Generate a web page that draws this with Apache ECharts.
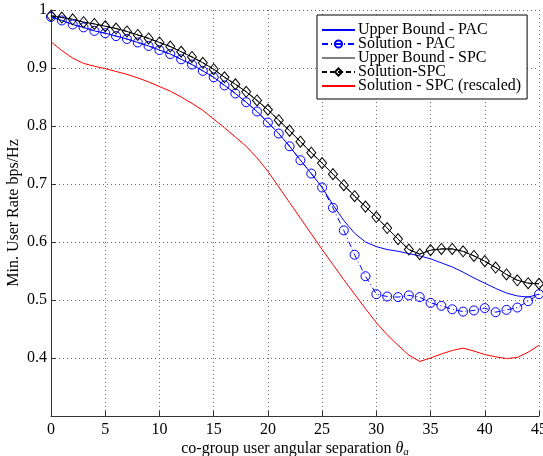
<!DOCTYPE html>
<html>

<head>
    <meta charset="utf8">
    <script src="https://cdn.jsdelivr.net/npm/echarts@6/dist/echarts.min.js"></script>
    <style>
        body { margin: 0; background: #fff; }
        #main { width: 543px; height: 456px; }
    </style>
</head>

<body>
    <div id="main"></div>
    <script type="text/javascript">
        // angular separation, degrees
        var angles = [];
        for (var i = 0; i <= 45; i++) angles.push(i);

        var upperPAC = [0.988, 0.982, 0.975, 0.970, 0.964, 0.960, 0.955, 0.950, 0.944, 0.938,
            0.931, 0.924, 0.915, 0.906, 0.895, 0.884, 0.870, 0.856, 0.841, 0.825,
            0.806, 0.787, 0.765, 0.741, 0.718, 0.694, 0.664, 0.637, 0.615, 0.600,
            0.592, 0.587, 0.584, 0.580, 0.576, 0.571, 0.564, 0.557, 0.548, 0.538,
            0.529, 0.520, 0.512, 0.507, 0.505, 0.510];

        var solutionPAC = [0.988, 0.982, 0.975, 0.970, 0.964, 0.960, 0.955, 0.950, 0.944, 0.938,
            0.931, 0.924, 0.915, 0.906, 0.895, 0.884, 0.870, 0.856, 0.841, 0.825,
            0.806, 0.787, 0.765, 0.741, 0.718, 0.694, 0.659, 0.620, 0.578, 0.541,
            0.510, 0.506, 0.505, 0.508, 0.505, 0.495, 0.490, 0.484, 0.480, 0.482,
            0.486, 0.479, 0.483, 0.487, 0.498, 0.510];

        var upperSPC = [0.990, 0.987, 0.984, 0.979, 0.976, 0.972, 0.968, 0.963, 0.957, 0.951,
            0.944, 0.937, 0.928, 0.919, 0.909, 0.898, 0.884, 0.872, 0.859, 0.844,
            0.828, 0.810, 0.792, 0.773, 0.754, 0.736, 0.717, 0.698, 0.679, 0.661,
            0.643, 0.624, 0.605, 0.587, 0.579, 0.586, 0.588, 0.588, 0.584, 0.576,
            0.567, 0.556, 0.544, 0.534, 0.529, 0.528];

        var solutionSPC = [0.990, 0.987, 0.984, 0.979, 0.976, 0.972, 0.968, 0.963, 0.957, 0.951,
            0.944, 0.937, 0.928, 0.919, 0.909, 0.898, 0.884, 0.872, 0.859, 0.844,
            0.828, 0.810, 0.792, 0.773, 0.754, 0.736, 0.717, 0.698, 0.679, 0.661,
            0.643, 0.624, 0.605, 0.587, 0.579, 0.586, 0.588, 0.588, 0.584, 0.576,
            0.567, 0.556, 0.544, 0.534, 0.529, 0.528];

        var rescaledSPC = [0.945, 0.930, 0.917, 0.908, 0.903, 0.899, 0.894, 0.889, 0.883, 0.876,
            0.868, 0.860, 0.850, 0.839, 0.827, 0.812, 0.797, 0.781, 0.765, 0.745,
            0.722, 0.695, 0.668, 0.641, 0.614, 0.587, 0.561, 0.535, 0.510, 0.485,
            0.461, 0.440, 0.422, 0.405, 0.394, 0.400, 0.407, 0.413, 0.417, 0.412,
            0.406, 0.402, 0.399, 0.401, 0.410, 0.422];

        var xTicks = { min: 0, max: 45, interval: 5 };
        var yTicks = { min: 0.3, max: 1, interval: 0.1 };

        function pairs(ys) {
            return angles.map(function (a, i) { return [a, ys[i]]; });
        }

        var font = 'Liberation Serif';
        var gridLine = { show: true, lineStyle: { color: '#666', type: [1, 3], width: 1 } };
        var noSymbol = { opacity: 0 };

        var chart = echarts.init(document.getElementById('main'));
        chart.setOption({
            animation: false,
            backgroundColor: '#fff',
            grid: { left: 51, right: 4, top: 10, bottom: 40, outerBoundsMode: 'none' },
            legend: {
                orient: 'vertical',
                left: 317,
                top: 15,
                itemWidth: 33,
                itemHeight: 9,
                itemGap: -2,
                padding: [7, 6, 5, 4],
                backgroundColor: '#fff',
                borderColor: '#000',
                borderWidth: 1,
                textStyle: { fontFamily: font, fontSize: 16, lineHeight: 14, color: '#000', padding: [0, 0, 0, -2] },
                data: [
                    { name: 'Upper Bound - PAC', itemStyle: noSymbol },
                    { name: 'Solution - PAC' },
                    { name: 'Upper Bound - SPC', itemStyle: noSymbol, lineStyle: { color: '#000', width: 1, type: 'solid' } },
                    { name: 'Solution-SPC' },
                    { name: 'Solution - SPC (rescaled)', itemStyle: noSymbol }
                ]
            },
            xAxis: {
                type: 'value',
                min: xTicks.min, max: xTicks.max, interval: xTicks.interval,
                name: 'co-group user angular separation {i|θ}{s|a}',
                nameLocation: 'middle',
                nameGap: 24,
                nameMoveOverlap: false,
                nameTextStyle: {
                    fontFamily: font, fontSize: 16, color: '#000',
                    rich: {
                        i: { fontFamily: font, fontSize: 16, fontStyle: 'italic', color: '#000' },
                        s: { fontFamily: font, fontSize: 11, fontStyle: 'italic', color: '#000', padding: [7, 0, 0, 0] }
                    }
                },
                axisLine: { lineStyle: { color: '#333', width: 1 } },
                axisTick: { inside: true, length: 5, lineStyle: { color: '#333' } },
                axisLabel: { fontFamily: font, fontSize: 16, color: '#000', margin: 6 },
                splitLine: gridLine
            },
            yAxis: {
                type: 'value',
                min: yTicks.min, max: yTicks.max, interval: yTicks.interval,
                name: 'Min. User Rate bps/Hz',
                nameLocation: 'middle',
                nameGap: 29,
                nameMoveOverlap: false,
                nameTextStyle: { fontFamily: font, fontSize: 16, color: '#000' },
                axisLine: { show: true, lineStyle: { color: '#333', width: 1 } },
                axisTick: { show: true, inside: true, length: 5, lineStyle: { color: '#333' } },
                axisLabel: {
                    fontFamily: font, fontSize: 16, color: '#000', margin: 4,
                    formatter: function (v) { return v < 0.35 ? '' : String(+v.toFixed(1)); }
                },
                splitLine: gridLine
            },
            series: [{
                name: 'Upper Bound - PAC',
                type: 'line',
                data: pairs(upperPAC),
                symbol: 'none',
                color: '#0000ff',
                lineStyle: { color: '#0000ff', width: 1 }
            }, {
                name: 'Solution - PAC',
                type: 'line',
                data: pairs(solutionPAC),
                symbol: 'circle',
                symbolSize: 9,
                showAllSymbol: true,
                color: '#0000ff',
                itemStyle: { color: 'rgba(255,255,255,0)', borderColor: '#0000ff', borderWidth: 1 },
                lineStyle: { color: '#0000ff', width: 1, type: [6, 3, 1, 3] }
            }, {
                name: 'Upper Bound - SPC',
                type: 'line',
                data: pairs(upperSPC),
                symbol: 'none',
                color: '#000',
                lineStyle: { color: '#000', width: 1 }
            }, {
                name: 'Solution-SPC',
                type: 'line',
                data: pairs(solutionSPC),
                symbol: 'diamond',
                symbolSize: [9, 11],
                showAllSymbol: true,
                color: '#000',
                itemStyle: { color: 'rgba(255,255,255,0)', borderColor: '#000', borderWidth: 1 },
                lineStyle: { color: '#000', width: 1, type: [5, 3] }
            }, {
                name: 'Solution - SPC (rescaled)',
                type: 'line',
                data: pairs(rescaledSPC),
                symbol: 'none',
                color: '#ff0000',
                lineStyle: { color: '#ff0000', width: 1 }
            }]
        });
    </script>
</body>

</html>
